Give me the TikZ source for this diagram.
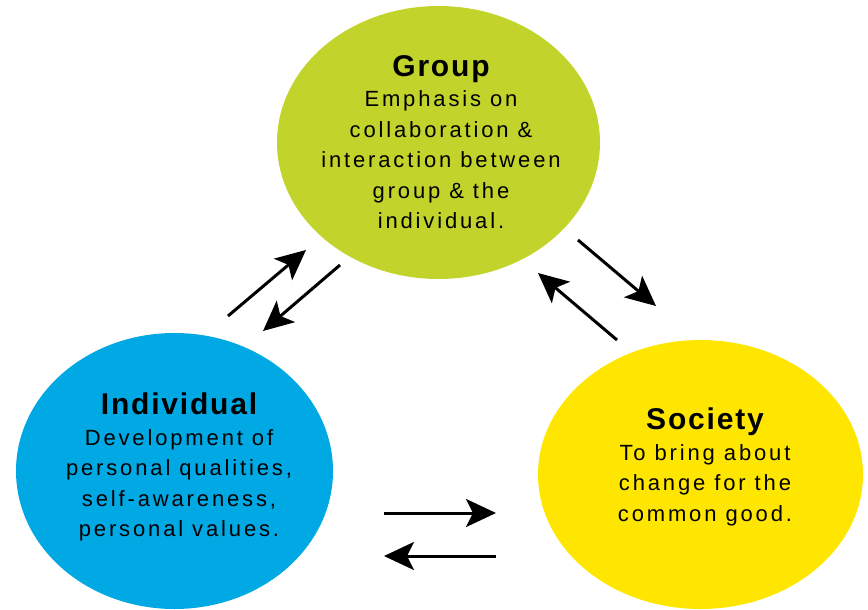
\documentclass[tikz,border=0pt]{standalone}
\usepackage{fontspec}
\setmainfont{Liberation Sans}[LetterSpace=13]
\newfontfamily\titlefont{Liberation Sans}[LetterSpace=6]
\usetikzlibrary{arrows.meta,shapes.geometric}
\definecolor{groupgreen}{RGB}{194,212,43}
\definecolor{indblue}{RGB}{0,169,228}
\definecolor{socyellow}{RGB}{255,230,0}
\tikzset{
  blob/.style={ellipse, draw=none, inner sep=0pt},
  label text/.style={align=center, inner sep=0pt, anchor=north,
    font=\fontsize{22}{30.5}\selectfont},
  flow/.style={line width=3pt, -{Stealth[length=30pt,width=28pt,inset=7pt]}}
}
\newcommand{\ttl}[1]{{\titlefont\bfseries\fontsize{30}{30.5}\selectfont #1}}
\begin{document}
\begin{tikzpicture}[x=1pt,y=-1pt]
\useasboundingbox (0,0) rectangle (868,610);
% ellipses
\node[blob, fill=groupgreen, minimum width=323pt, minimum height=273pt] (group) at (438.5,142.5) {};
\node[blob, fill=indblue, minimum width=317pt, minimum height=276pt] (indiv) at (174.5,471) {};
\node[blob, fill=socyellow, minimum width=325pt, minimum height=269pt] (soc) at (700.5,474.5) {};
% texts
\node[label text] (gtext) at (441,55) {\ttl{Group}\\Emphasis on\\collaboration \&\\interaction between\\group \& the\\individual.};
\node[label text] (itext) at (179,393) {\ttl{Individual}\\Development of\\personal qualities,\\self-awareness,\\personal values.};
\node[label text] (stext) at (705,408) {\ttl{Society}\\To bring about\\change for the\\common good.};
% arrow end points
\coordinate (a1s) at (228,316); \coordinate (a1e) at (306,250);
\coordinate (a2s) at (340,265); \coordinate (a2e) at (263,331);
\coordinate (a3s) at (578,240); \coordinate (a3e) at (656,306);
\coordinate (a4s) at (617,340); \coordinate (a4e) at (538,273);
\coordinate (a5s) at (384,513); \coordinate (a5e) at (496,513);
\coordinate (a6s) at (496,556); \coordinate (a6e) at (384,556);
\draw[flow] (a1s) -- (a1e);
\draw[flow] (a2s) -- (a2e);
\draw[flow] (a3s) -- (a3e);
\draw[flow] (a4s) -- (a4e);
\draw[flow] (a5s) -- (a5e);
\draw[flow] (a6s) -- (a6e);
\end{tikzpicture}
\end{document}
